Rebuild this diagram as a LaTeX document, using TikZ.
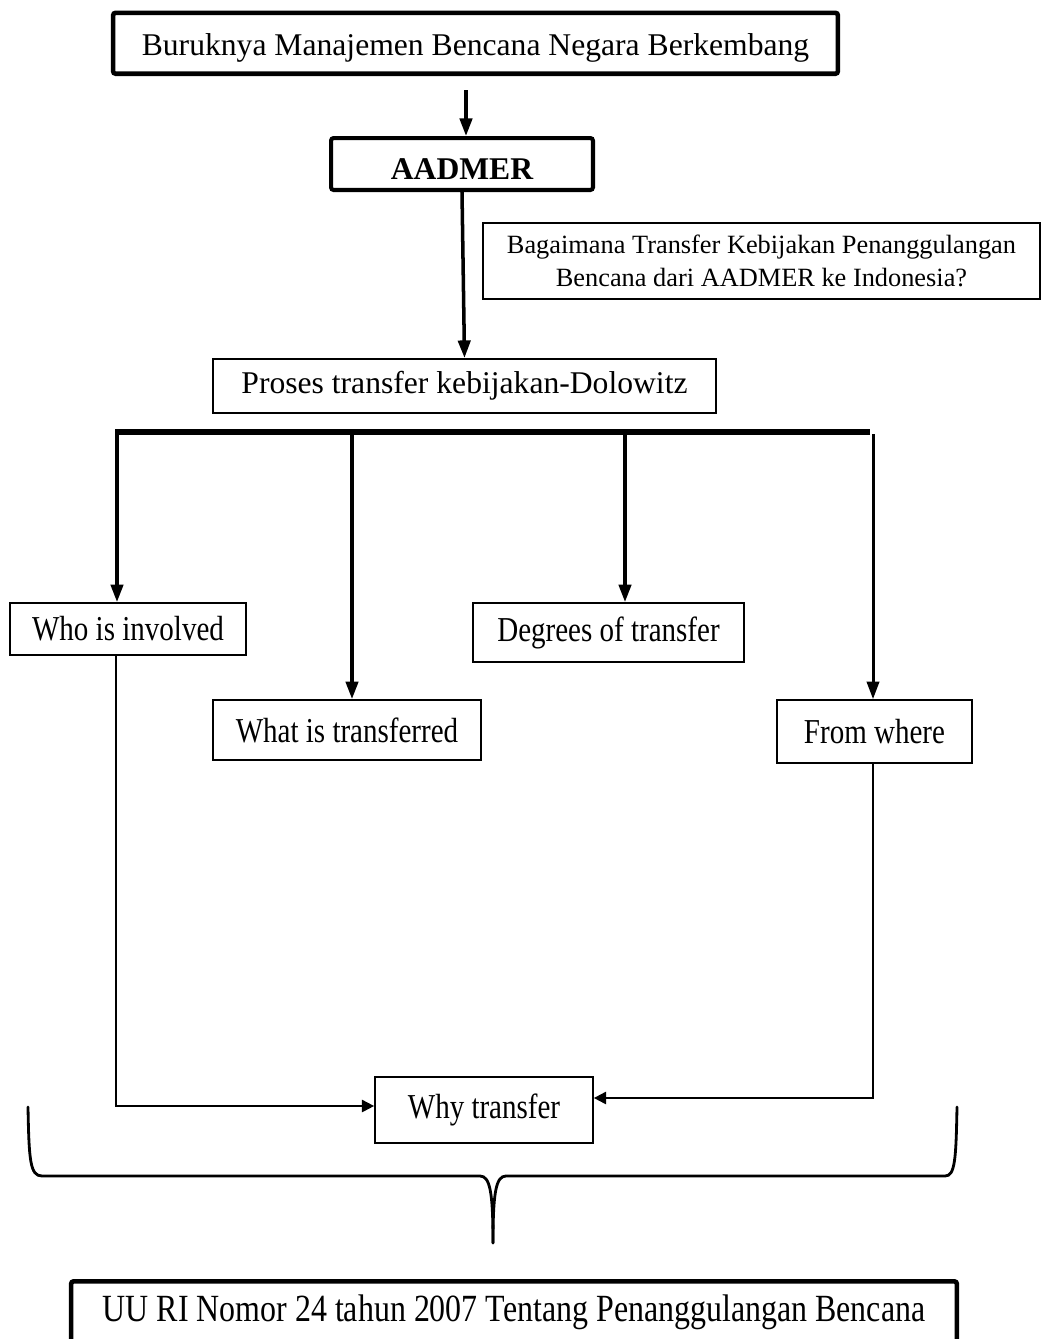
\documentclass[tikz,border=0pt]{standalone}
\usepackage{fontspec}
\setmainfont{Liberation Serif}
\newfontfamily\tallfont{Liberation Serif}[FakeStretch=0.83]
\usepackage{tikz}
\usetikzlibrary{positioning, arrows.meta, calc}

\begin{document}
\begin{tikzpicture}[
    x=0.02cm, y=-0.02cm,
    thickbox/.style={draw, line width=2.6pt, rounded corners=1.5pt, align=center, font=\fontsize{18}{22}\selectfont},
    thinbox/.style={draw, line width=1pt, align=center, font=\tallfont\fontsize{19.9}{24}\selectfont},
    signal/.style={-{Triangle[length=10pt, width=7pt]}, line width=2pt},
    flow/.style={-{Triangle[length=7pt, width=7pt]}, line width=1.1pt},
    brace/.style={line width=1.6pt, line cap=round},
]
    \useasboundingbox (0,0) rectangle (1043,1339);

    % Problem and regional agreement
    \node[thickbox, anchor=north, minimum width=14.5cm, inner ysep=0pt, text height=0.85cm, text depth=0.37cm] (problem) at (475.5,10.5) {Buruknya Manajemen Bencana Negara Berkembang};
    \node[thickbox, anchor=north, line width=2.3pt, minimum width=5.24cm, inner ysep=0pt, text height=0.82cm, text depth=0.22cm, font=\fontsize{18}{22}\selectfont\bfseries] (aadmer) at (462,136) {AADMER};

    % Research question
    \node[thinbox, minimum width=11.14cm, minimum height=1.52cm, font=\fontsize{15}{19}\selectfont] (question) at (761.5,261) {Bagaimana Transfer Kebijakan Penanggulangan\\Bencana dari AADMER ke Indonesia?};

    % Dolowitz framework
    \node[thinbox, anchor=north, minimum width=10.06cm, inner ysep=0pt, text height=0.7cm, text depth=0.38cm, font=\fontsize{18}{22}\selectfont] (proses) at (464.5,358) {Proses transfer kebijakan-Dolowitz};

    % Questions of the framework
    \node[thinbox, minimum width=4.72cm, minimum height=1.04cm] (who) at (128,629) {Who is involved};
    \node[thinbox, minimum width=5.36cm, minimum height=1.2cm] (what) at (347,730) {What is transferred};
    \node[thinbox, minimum width=5.42cm, minimum height=1.18cm] (degrees) at (608.5,632.5) {Degrees of transfer};
    \node[thinbox, minimum width=3.9cm, minimum height=1.26cm] (where) at (874.5,731.5) {From where};
    \node[thinbox, minimum width=4.36cm, minimum height=1.32cm] (why) at (484,1110) {Why transfer};

    % Outcome
    \node[thickbox, anchor=north, minimum width=17.72cm, inner ysep=0pt, text height=0.8cm, text depth=0.5cm, font=\tallfont\fontsize{21.9}{26}\selectfont] (law) at (514,1279) {UU RI Nomor 24 tahun 2007 Tentang Penanggulangan Bencana};

    % Arrows
    \coordinate (start) at (466,90);
    \draw[signal] (start) -- (start |- aadmer.north);
    \draw[signal] (aadmer.south) -- (proses.north);

    \coordinate (barL) at (115,432);
    \coordinate (barR) at (870,432);
    \draw[line width=3.6pt] (barL) -- (barR);

    \coordinate (t1) at (117,432);
    \coordinate (t2) at (352,432);
    \coordinate (t3) at (625,432);
    \coordinate (t4) at (873,434);
    \draw[signal] (t1) -- (t1 |- who.north);
    \draw[signal] (t2) -- (t2 |- what.north);
    \draw[signal] (t3) -- (t3 |- degrees.north);
    \draw[signal, line width=1.7pt] (t4) -- (t4 |- where.north);

    \coordinate (l1) at (116,1106);
    \coordinate (r1) at (873,1098);
    \draw[flow] (l1 |- who.south) -- (l1) -- (l1 -| why.west);
    \draw[flow] (r1 |- where.south) -- (r1) -- (r1 -| why.east);

    % Brace
    \coordinate (tip) at (493,1243);
    \draw[brace] (28,1107) .. controls (29,1160) and (30,1176) .. (42,1176) -- (480,1176)
        .. controls (490,1176) and (493,1192) .. (tip);
    \draw[brace] (957,1107) .. controls (956,1160) and (955,1176) .. (945,1176) -- (506,1176)
        .. controls (496,1176) and (493,1192) .. (tip);

\end{tikzpicture}
\end{document}
